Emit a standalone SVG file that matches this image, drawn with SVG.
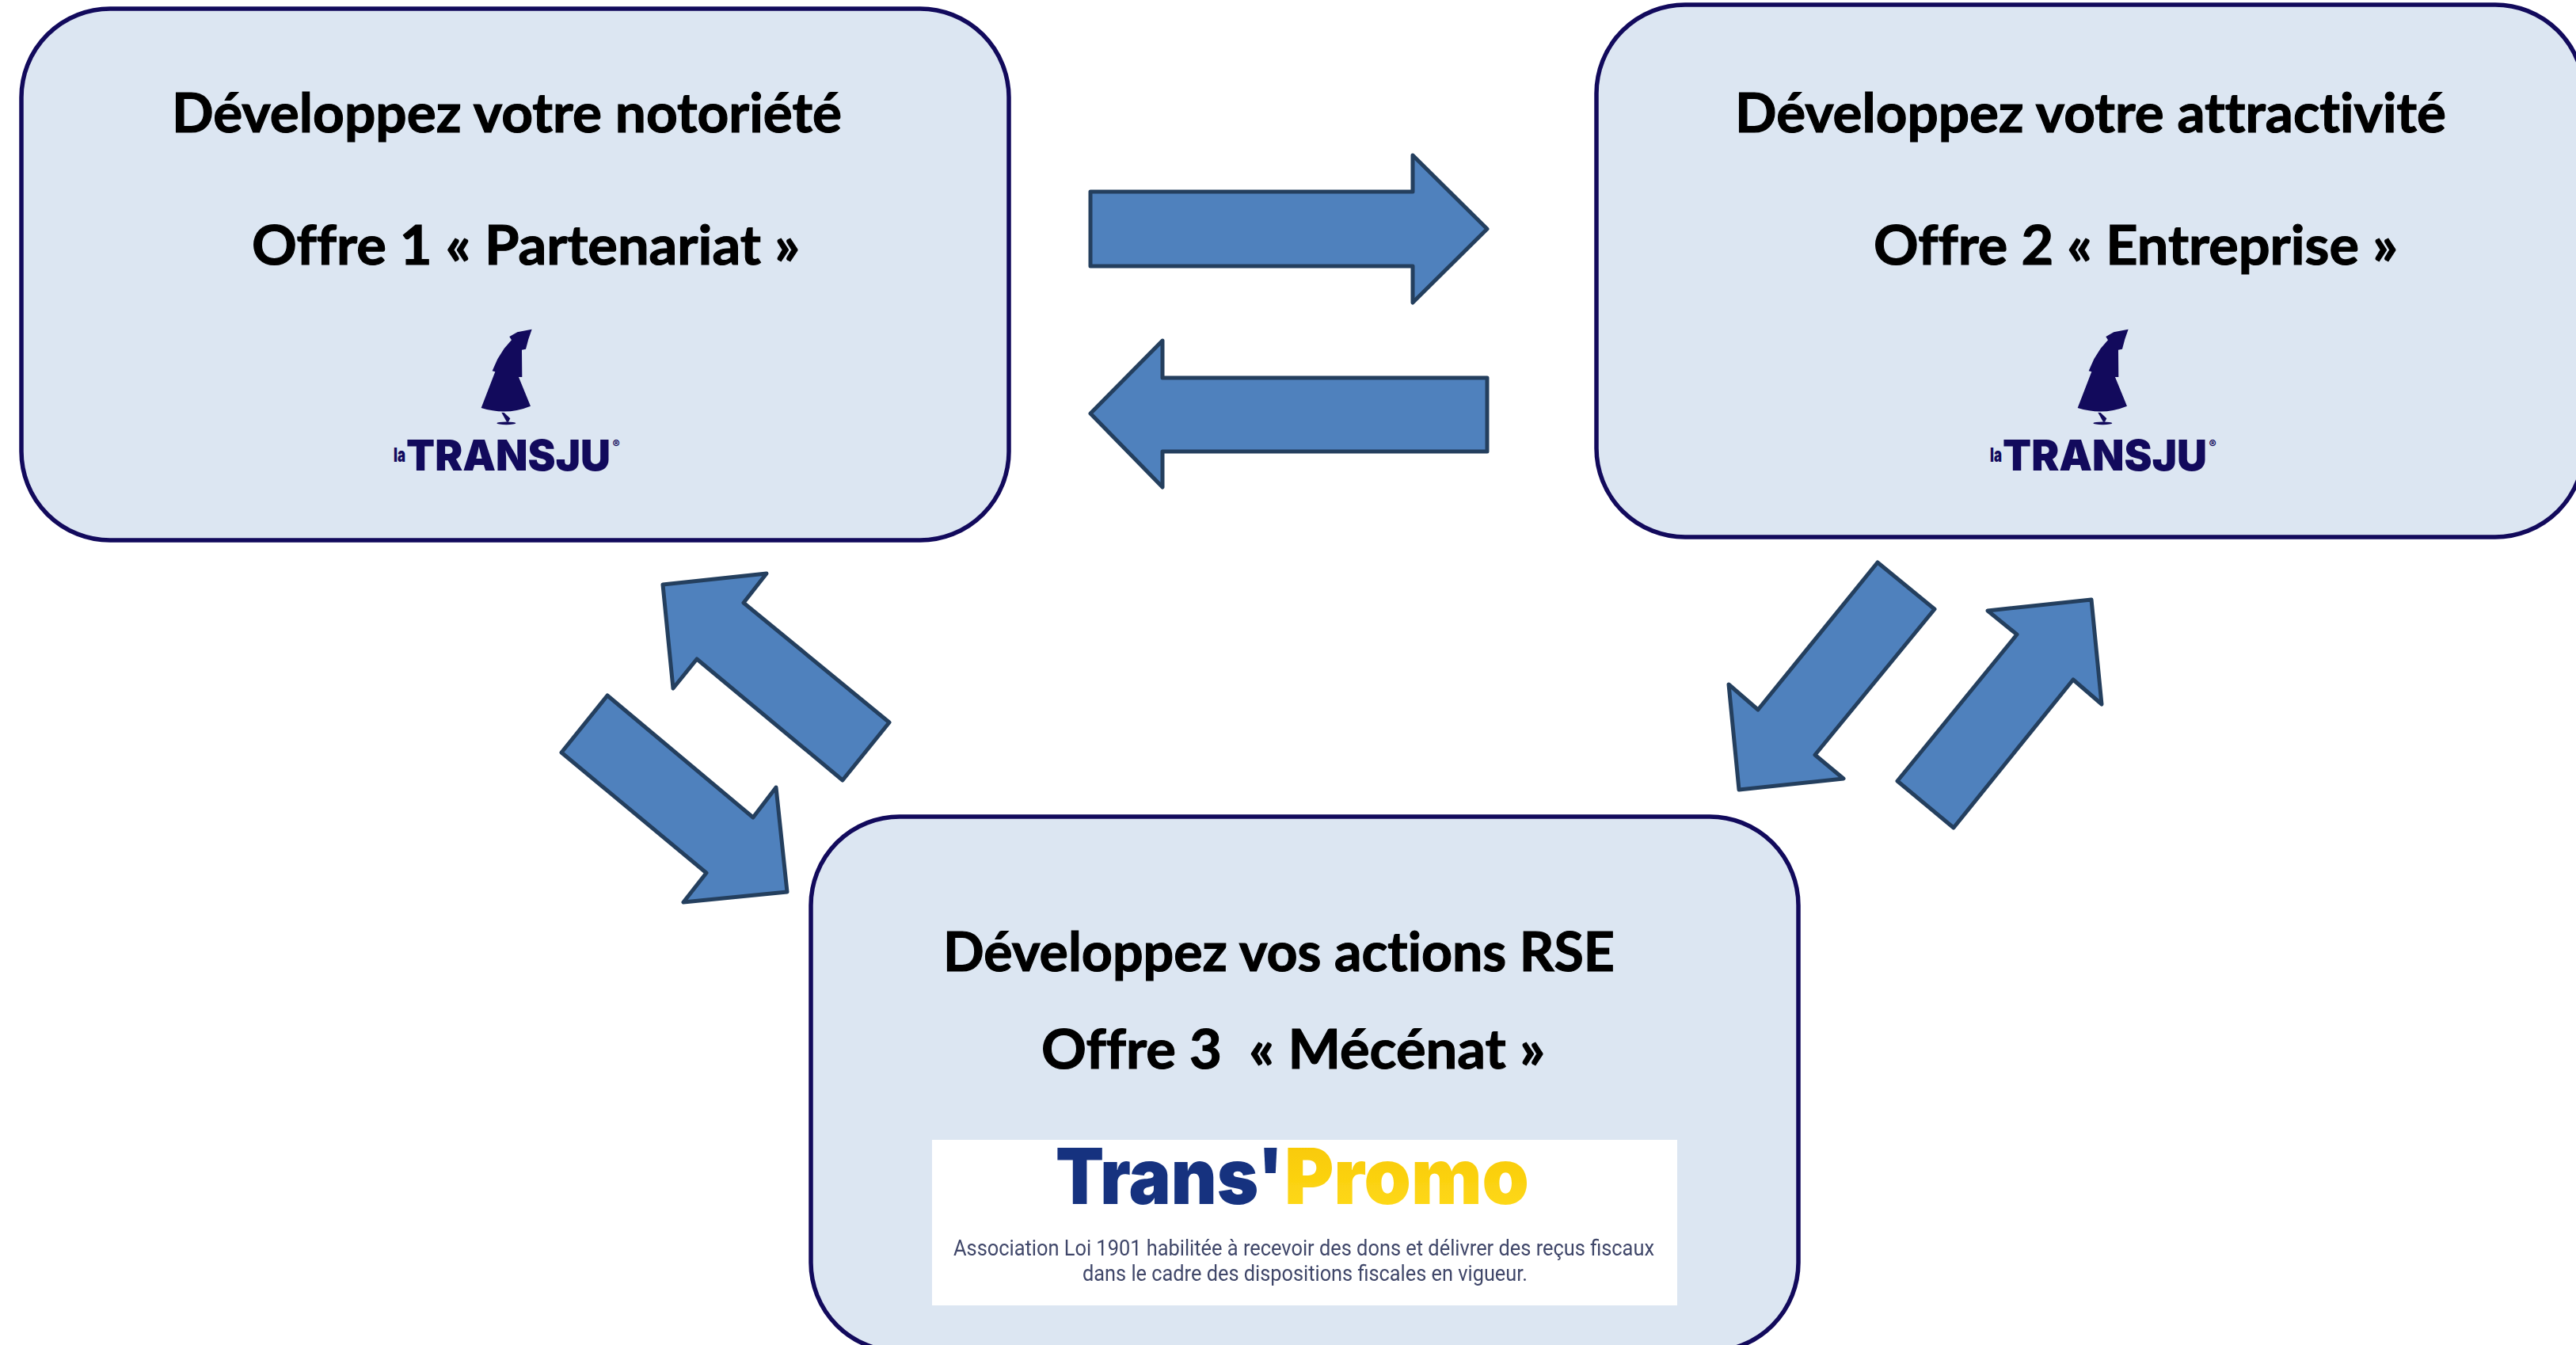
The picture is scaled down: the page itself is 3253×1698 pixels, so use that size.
<svg xmlns="http://www.w3.org/2000/svg" width="3253" height="1698" viewBox="0 0 3253 1698">
<style>
.box{fill:#dce6f2;stroke:#120a5c;stroke-width:5.500}
.arrow{fill:#4f81bd;stroke:#243f5e;stroke-width:5;stroke-linejoin:round}
.head{font-family:"Lato","Liberation Sans",sans-serif;font-weight:700;font-size:69px;fill:#000;stroke:#000;stroke-width:1.200;white-space:pre;font-variant-ligatures:none}
.mark{fill:#120a5c}
.tj{font-family:"Inter","Liberation Sans",sans-serif;font-weight:900;fill:#120a5c}
.tp{font-family:"Inter","Liberation Sans",sans-serif;font-weight:900;font-size:98px}
.small{font-family:"Roboto","Liberation Sans",sans-serif;font-size:27px;fill:#3f4669}
</style>
<defs>
<linearGradient id="promo" x1="0" y1="0" x2="0" y2="1"><stop offset="0" stop-color="#f7c600"/><stop offset="1" stop-color="#ffdc1e"/></linearGradient>
<filter id="soft" x="-5%" y="-5%" width="110%" height="110%"><feGaussianBlur stdDeviation="0.7"/></filter>
</defs>
<rect width="3253" height="1698" fill="#fff"/>
<g id="connectors">
<polygon class="arrow" points="1377,242 1784,242 1784,196 1878,289 1784,382 1784,336 1377,336"/>
<polygon class="arrow" points="1878,477 1468,477 1468,430 1377,522 1468,615 1468,570 1878,570"/>
<polygon class="arrow" points="837,738 968,724 939,761 1123,912 1064,985 880,832 850,869"/>
<polygon class="arrow" points="767,878 709,950 892,1102 863,1139 994,1126 980,994 951,1032"/>
<polygon class="arrow" points="2371,710 2443,769 2292,953 2328,983 2196,997 2183,864 2220,896"/>
<polygon class="arrow" points="2396,986 2467,1045 2618,858 2654,889 2641,757 2510,771 2547,801"/>
</g>
<g id="node-partenariat">
<rect class="box" x="27" y="11" width="1247" height="671" rx="112" ry="112"/>
<text class="head" x="217" y="167" textLength="846" lengthAdjust="spacingAndGlyphs">Développez votre notoriété</text>
<text class="head" x="318" y="334" textLength="692" lengthAdjust="spacingAndGlyphs">Offre 1 « Partenariat »</text>
<g transform="translate(440 390) scale(.3333)">
<path class="mark" d="M695 77L640 88 610 105 618 118 590 150 565 190 545 235 556 238 503 375Q600 405 690 368L645 258 658 258 657 155 672 152 682 115Z"/>
<path class="mark" d="M580 392L590 393 613 415 606 428 600 428Z"/>
<ellipse class="mark" cx="598" cy="433" rx="36" ry="5.500"/>
</g>
<text class="tj" x="497" y="583" font-size="25" textLength="15" lengthAdjust="spacingAndGlyphs">la</text>
<text class="tj" x="513" y="594" font-size="53.500" textLength="258" lengthAdjust="spacingAndGlyphs">TRANSJU</text>
<text class="tj" x="778" y="566" font-size="14" text-anchor="middle" font-weight="400">®</text>
</g>
<g id="node-entreprise">
<rect class="box" x="2016" y="6" width="1247" height="672" rx="112" ry="112"/>
<text class="head" x="2191" y="167" textLength="898" lengthAdjust="spacingAndGlyphs">Développez votre attractivité</text>
<text class="head" x="2366" y="334" textLength="662" lengthAdjust="spacingAndGlyphs">Offre 2 « Entreprise »</text>
<g transform="translate(2456 390) scale(.3333)">
<path class="mark" d="M695 77L640 88 610 105 618 118 590 150 565 190 545 235 556 238 503 375Q600 405 690 368L645 258 658 258 657 155 672 152 682 115Z"/>
<path class="mark" d="M580 392L590 393 613 415 606 428 600 428Z"/>
<ellipse class="mark" cx="598" cy="433" rx="36" ry="5.500"/>
</g>
<text class="tj" x="2513" y="583" font-size="25" textLength="15" lengthAdjust="spacingAndGlyphs">la</text>
<text class="tj" x="2529" y="594" font-size="53.500" textLength="258" lengthAdjust="spacingAndGlyphs">TRANSJU</text>
<text class="tj" x="2794" y="566" font-size="14" text-anchor="middle" font-weight="400">®</text>
</g>
<g id="node-mecenat">
<rect class="box" x="1024" y="1031" width="1247" height="675" rx="112" ry="112"/>
<text class="head" x="1191" y="1226" textLength="848" lengthAdjust="spacingAndGlyphs">Développez vos actions RSE</text>
<text class="head" x="1315" y="1349" textLength="636" lengthAdjust="spacingAndGlyphs">Offre 3  « Mécénat »</text>
<rect x="1177" y="1439" width="941" height="209" fill="#fff"/>
<g filter="url(#soft)">
<text class="tp" x="1333" y="1520" fill="#12307f" textLength="288" lengthAdjust="spacingAndGlyphs">Trans'</text>
<text class="tp" x="1622" y="1520" fill="url(#promo)" textLength="309" lengthAdjust="spacingAndGlyphs">Promo</text>
<text class="small" x="1204" y="1585" textLength="885" lengthAdjust="spacingAndGlyphs">Association Loi 1901 habilitée à recevoir des dons et délivrer des reçus fiscaux</text>
<text class="small" x="1367" y="1617" textLength="562" lengthAdjust="spacingAndGlyphs">dans le cadre des dispositions fiscales en vigueur.</text>
</g>
</g>
</svg>
